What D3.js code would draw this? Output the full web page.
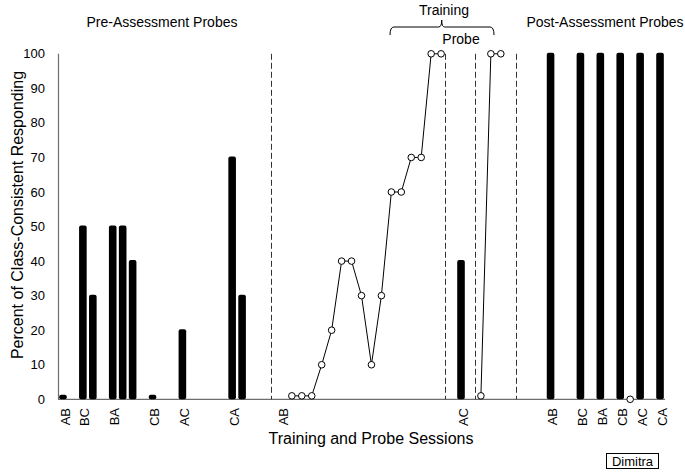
<!DOCTYPE html>
<html>
<head>
<meta charset="utf-8">
<script src="https://cdn.jsdelivr.net/npm/d3@7"></script>
<style>
  body { margin: 0; background: #fff; }
  text { font-family: "Liberation Sans", Arial, sans-serif; fill: #000; }
</style>
</head>
<body>
<div id="chart"></div>
<script>
// session slots along the x axis
var slotCount = 61;
var tickSlots = [0, 2, 5, 9, 12, 17, 22, 40, 49, 52, 54, 56, 58, 60];
var tickLabels = ["AB", "BC", "BA", "CB", "AC", "CA", "AB", "AC", "AB", "BC", "BA", "CB", "AC", "CA"];

// probe bars
var barSlots = [0, 2, 3, 5, 6, 7, 9, 12, 17, 18, 40, 49, 52, 54, 56, 58, 60];
var barValues = [1, 50, 30, 50, 50, 40, 1, 20, 70, 30, 40, 100, 100, 100, 100, 100, 100];

// training sessions (open circles)
var trainSlotsAB = [23, 24, 25, 26, 27, 28, 29, 30, 31, 32, 33, 34, 35, 36, 37, 38];
var trainValuesAB = [1, 1, 1, 10, 20, 40, 40, 30, 10, 30, 60, 60, 70, 70, 100, 100];
var trainSlotsAC = [42, 43, 44];
var trainValuesAC = [1, 100, 100];
var loneSlots = [57];
var loneValues = [0];

// phase change lines (in slot units)
var phaseLines = [21.4, 38.9, 41.9, 46.0];

var yTicks = [0, 10, 20, 30, 40, 50, 60, 70, 80, 90, 100];

var width = 685, height = 472;
var svg = d3.select("#chart").append("svg")
  .attr("width", width)
  .attr("height", height);

var x = d3.scaleLinear().domain([0, slotCount]).range([58, 665]);
var y = d3.scaleLinear().domain([0, 100]).range([399.3, 53.8]);
var barW = 7.6;
function cx(k) { return x(k + 0.5); }

// y tick labels
svg.append("g").selectAll("text")
  .data(yTicks)
  .enter().append("text")
  .attr("x", 45)
  .attr("y", function(d) { return y(d); })
  .attr("dy", "0.35em")
  .attr("text-anchor", "end")
  .style("font-size", "13px")
  .text(function(d) { return d; });

// axes lines
svg.append("line")
  .attr("x1", 58.5).attr("x2", 58.5)
  .attr("y1", y(100)).attr("y2", y(0))
  .attr("stroke", "#6e6e6e").attr("stroke-width", 1.2);
svg.append("line")
  .attr("x1", x(0)).attr("x2", x(slotCount))
  .attr("y1", y(0)).attr("y2", y(0))
  .attr("stroke", "#6e6e6e").attr("stroke-width", 1.2);

// phase lines
svg.append("g").selectAll("line")
  .data(phaseLines)
  .enter().append("line")
  .attr("x1", function(d) { return Math.round(x(d)) + 0.5; })
  .attr("x2", function(d) { return Math.round(x(d)) + 0.5; })
  .attr("y1", y(100))
  .attr("y2", y(0))
  .attr("stroke", "#333")
  .attr("stroke-width", 1)
  .style("stroke-dasharray", "6,3");

// bars
svg.append("g").selectAll("rect")
  .data(barSlots)
  .enter().append("rect")
  .attr("x", function(d) { return cx(d) - barW / 2; })
  .attr("y", function(d, i) { return y(barValues[i]) - 1; })
  .attr("width", barW)
  .attr("height", function(d, i) { return y(0) - y(barValues[i]) + 1; })
  .attr("rx", 2)
  .attr("fill", "#000");

// training lines
function series(slots, values) {
  return slots.map(function(s, i) { return [s, values[i]]; });
}
var line = d3.line()
  .x(function(d) { return cx(d[0]); })
  .y(function(d) { return y(d[1]); });

var allSeries = [series(trainSlotsAB, trainValuesAB), series(trainSlotsAC, trainValuesAC), series(loneSlots, loneValues)];
allSeries.forEach(function(s) {
  svg.append("path")
    .attr("d", line(s))
    .attr("fill", "none")
    .attr("stroke", "#000")
    .attr("stroke-width", 1);
  svg.append("g").selectAll("circle")
    .data(s)
    .enter().append("circle")
    .attr("cx", function(d) { return cx(d[0]); })
    .attr("cy", function(d) { return y(d[1]); })
    .attr("r", 3.3)
    .attr("fill", "#fff")
    .attr("stroke", "#000")
    .attr("stroke-width", 1);
});

// x tick labels
svg.append("g").selectAll("text")
  .data(tickSlots)
  .enter().append("text")
  .attr("transform", function(d) { return "translate(" + (cx(d) + 2) + ",408) rotate(-90)"; })
  .attr("dy", "0.35em")
  .attr("text-anchor", "end")
  .style("font-size", "13px")
  .text(function(d, i) { return tickLabels[i]; });

// axis titles
svg.append("text")
  .attr("x", 371).attr("y", 444)
  .attr("text-anchor", "middle")
  .style("font-size", "16px")
  .text("Training and Probe Sessions");
svg.append("text")
  .attr("transform", "translate(17,215) rotate(-90)")
  .attr("dy", "0.35em")
  .attr("text-anchor", "middle")
  .style("font-size", "16px")
  .text("Percent of Class-Consistent Responding");

// phase labels
svg.append("text").attr("x", 162).attr("y", 27).attr("text-anchor", "middle")
  .style("font-size", "14px").text("Pre-Assessment Probes");
svg.append("text").attr("x", 605).attr("y", 27).attr("text-anchor", "middle")
  .style("font-size", "14px").text("Post-Assessment Probes");
svg.append("text").attr("x", 444).attr("y", 15).attr("text-anchor", "middle")
  .style("font-size", "14px").text("Training");
svg.append("text").attr("x", 461).attr("y", 44).attr("text-anchor", "middle")
  .style("font-size", "14px").text("Probe");

// brace
var bL = 390, bR = 494, bM = 441.7;
svg.append("path")
  .attr("d", ["M", bL, 35, "Q", bL, 27, bL + 4, 27, "L", bM - 3, 27, "Q", bM, 27, bM, 20,
    "Q", bM, 27, bM + 3, 27, "L", bR - 4, 27, "Q", bR, 27, bR, 35].join(" "))
  .attr("fill", "none")
  .attr("stroke", "#000")
  .attr("stroke-width", 1);

// participant box
svg.append("rect")
  .attr("x", 606.5).attr("y", 453.5)
  .attr("width", 52).attr("height", 15)
  .attr("fill", "#fff")
  .attr("stroke", "#000")
  .attr("stroke-width", 1);
svg.append("text").attr("x", 632.5).attr("y", 461).attr("dy", "0.35em")
  .attr("text-anchor", "middle")
  .style("font-size", "13px").text("Dimitra");
</script>
</body>
</html>
